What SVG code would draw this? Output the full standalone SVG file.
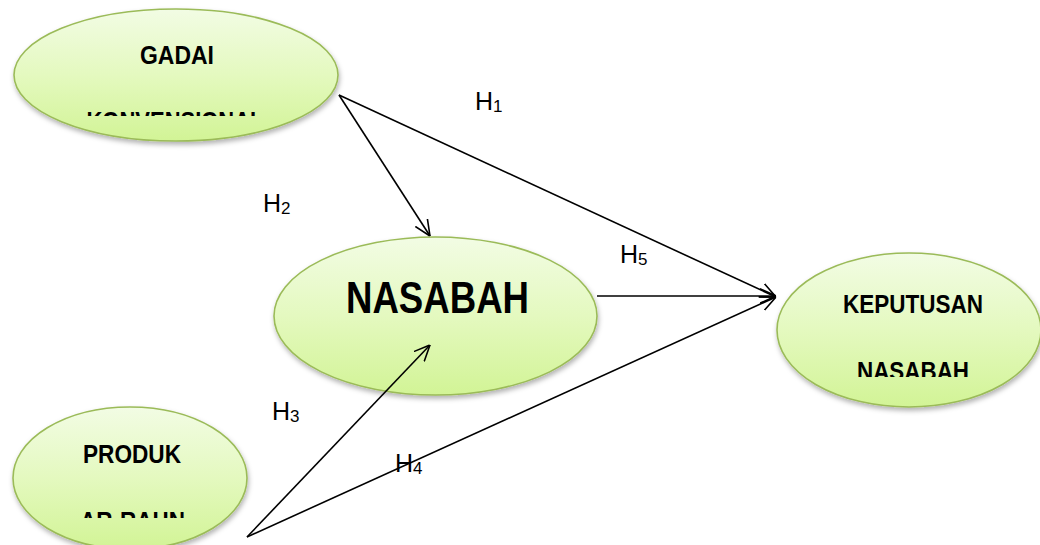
<svg xmlns="http://www.w3.org/2000/svg" width="1040" height="545" viewBox="0 0 1040 545">
<style>
.node{fill:url(#g);stroke:#9bbb59;stroke-width:1.6;filter:url(#sh)}
.t{font-family:"Liberation Sans",Arial,sans-serif;font-weight:bold;fill:#000}
.lbl{font-family:"Liberation Sans",Arial,sans-serif;font-size:25px;fill:#000}
.sub{font-size:17px}
.c{stroke:#000;stroke-width:1.6;fill:none;marker-end:url(#arr)}
</style>
<defs>
<linearGradient id="g" x1="0" y1="0" x2="0" y2="1">
<stop offset="0" stop-color="#f2fce4"/>
<stop offset="0.5" stop-color="#e4f9bf"/>
<stop offset="1" stop-color="#d2f496"/>
</linearGradient>
<filter id="sh" x="-10%" y="-10%" width="125%" height="130%">
<feDropShadow dx="1" dy="3" stdDeviation="2.5" flood-color="#000" flood-opacity="0.3"/>
</filter>
<marker id="arr" viewBox="0 0 10 10" refX="10" refY="5" markerWidth="16" markerHeight="16" markerUnits="userSpaceOnUse" orient="auto">
<path d="M0,0.5 L10,5 L0,9.5" fill="none" stroke="#000" stroke-width="1"/>
</marker>
<clipPath id="c1"><rect x="0" y="0" width="400" height="116"/></clipPath>
<clipPath id="c3"><rect x="760" y="240" width="280" height="137"/></clipPath>
<clipPath id="c4"><rect x="0" y="400" width="300" height="118"/></clipPath>
</defs>
<g id="node-gadai">
<ellipse class="node" cx="176" cy="75" rx="162" ry="66"/>
<text class="t" x="177" y="64" font-size="26" text-anchor="middle" textLength="74" lengthAdjust="spacingAndGlyphs">GADAI</text>
<text class="t" x="175" y="130" font-size="26" text-anchor="middle" textLength="177" lengthAdjust="spacingAndGlyphs" clip-path="url(#c1)">KONVENSIONAL</text>
</g>
<g id="node-nasabah">
<ellipse class="node" cx="435.5" cy="316" rx="161.5" ry="79"/>
<text class="t" x="437.5" y="313" font-size="44" text-anchor="middle" textLength="183" lengthAdjust="spacingAndGlyphs">NASABAH</text>
</g>
<g id="node-keputusan">
<ellipse class="node" cx="909" cy="330" rx="132" ry="77"/>
<text class="t" x="913" y="313" font-size="26" text-anchor="middle" textLength="140" lengthAdjust="spacingAndGlyphs">KEPUTUSAN</text>
<text class="t" x="913" y="380" font-size="26" text-anchor="middle" textLength="112" lengthAdjust="spacingAndGlyphs" clip-path="url(#c3)">NASABAH</text>
</g>
<g id="node-produk">
<ellipse class="node" cx="130" cy="478" rx="117" ry="71"/>
<text class="t" x="132" y="463" font-size="26" text-anchor="middle" textLength="98" lengthAdjust="spacingAndGlyphs">PRODUK</text>
<text class="t" x="132.5" y="530" font-size="26" text-anchor="middle" textLength="105" lengthAdjust="spacingAndGlyphs" clip-path="url(#c4)">AR-RAHN</text>
</g>
<g id="connectors">
<line class="c" x1="339" y1="95" x2="776" y2="297"/>
<line class="c" x1="339" y1="95" x2="430" y2="236"/>
<line class="c" x1="597" y1="296" x2="776" y2="296"/>
<line class="c" x1="247" y1="537" x2="430" y2="345"/>
<line class="c" x1="247" y1="537" x2="776" y2="297"/>
</g>
<g id="labels">
<text class="lbl" x="475" y="110">H<tspan class="sub" dy="2">1</tspan></text>
<text class="lbl" x="263" y="212">H<tspan class="sub" dy="2">2</tspan></text>
<text class="lbl" x="272" y="420">H<tspan class="sub" dy="2">3</tspan></text>
<text class="lbl" x="395" y="472">H<tspan class="sub" dy="2">4</tspan></text>
<text class="lbl" x="620" y="263">H<tspan class="sub" dy="2">5</tspan></text>
</g>
</svg>
